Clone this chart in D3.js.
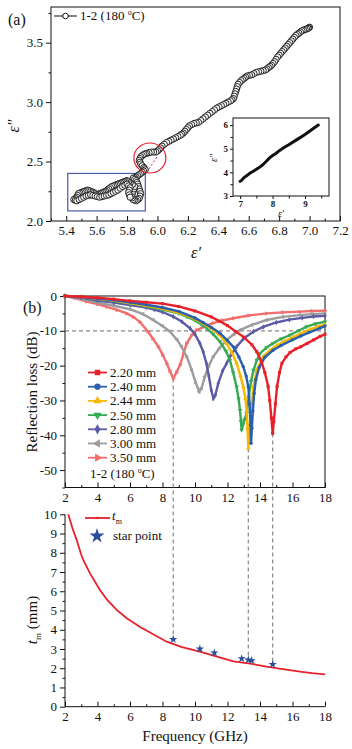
<!DOCTYPE html>
<html>
<head>
<meta charset="utf-8">
<script src="https://cdn.jsdelivr.net/npm/d3@7"></script>
<style>
body { margin: 0; background: #fff; }
text { font-family: 'Liberation Serif', 'Times New Roman', serif; fill: #111; }
</style>
</head>
<body>
<div id="chart"></div>
<script>
// ---- panel (a): Cole-Cole plot, [eps', eps'']
var coleCole = [
  [7.00,3.63],[6.995,3.625],[6.99,3.62],[6.98,3.615],[6.97,3.61],[6.96,3.605],[6.95,3.60],[6.94,3.59],
  [6.93,3.58],[6.92,3.57],[6.91,3.56],[6.90,3.545],[6.89,3.53],[6.88,3.515],[6.87,3.50],[6.86,3.485],
  [6.85,3.47],[6.84,3.455],[6.83,3.44],[6.82,3.425],[6.81,3.41],[6.80,3.395],[6.79,3.38],[6.78,3.36],
  [6.77,3.34],[6.76,3.325],[6.75,3.31],[6.74,3.30],[6.73,3.29],[6.72,3.28],[6.71,3.27],[6.695,3.265],
  [6.68,3.26],[6.665,3.255],[6.65,3.25],[6.635,3.24],[6.62,3.23],[6.605,3.225],[6.59,3.22],[6.58,3.21],
  [6.57,3.20],[6.56,3.19],[6.55,3.18],[6.54,3.165],[6.53,3.15],[6.525,3.13],[6.52,3.11],[6.515,3.09],
  [6.51,3.07],[6.505,3.05],[6.50,3.03],[6.49,3.02],[6.48,3.01],[6.465,3.00],[6.45,2.99],[6.435,2.98],
  [6.42,2.97],[6.405,2.96],[6.39,2.95],[6.375,2.935],[6.36,2.92],[6.345,2.905],[6.33,2.89],[6.315,2.875],
  [6.30,2.86],[6.285,2.845],[6.27,2.83],[6.255,2.825],[6.24,2.82],[6.225,2.81],[6.21,2.80],[6.20,2.785],
  [6.19,2.77],[6.18,2.755],[6.17,2.74],[6.16,2.73],[6.15,2.72],[6.135,2.71],[6.12,2.70],[6.105,2.69],
  [6.09,2.68],[6.075,2.67],[6.06,2.66],[6.045,2.645],[6.03,2.63],[6.02,2.615],[6.01,2.60],[6.00,2.59],
  [5.99,2.58],[5.975,2.58],[5.96,2.58],[5.945,2.575],[5.93,2.57],[5.92,2.565],[5.91,2.56],[5.90,2.55],
  [5.89,2.54],[5.885,2.525],[5.88,2.51],[5.885,2.495],[5.89,2.48],[5.90,2.465],[5.91,2.45],[5.915,2.44],
  [5.92,2.43],[5.91,2.42],[5.90,2.41],[5.89,2.40],[5.88,2.39],[5.87,2.38],[5.86,2.37],[5.85,2.365],
  [5.84,2.36],[5.85,2.35],[5.86,2.34],[5.865,2.325],[5.87,2.31],[5.875,2.29],[5.88,2.27],[5.885,2.25],
  [5.89,2.23],[5.885,2.21],[5.88,2.19],[5.87,2.18],[5.86,2.17],[5.85,2.175],[5.84,2.18],[5.835,2.195],
  [5.83,2.21],[5.835,2.23],[5.84,2.25],[5.845,2.27],[5.85,2.29],[5.835,2.305],[5.82,2.32],[5.81,2.33],
  [5.80,2.34],[5.79,2.335],[5.78,2.33],[5.77,2.325],[5.76,2.32],[5.75,2.315],[5.74,2.31],[5.73,2.305],
  [5.72,2.30],[5.71,2.295],[5.70,2.29],[5.69,2.28],[5.68,2.27],[5.67,2.26],[5.66,2.25],[5.65,2.245],
  [5.64,2.24],[5.63,2.235],[5.62,2.23],[5.61,2.225],[5.60,2.22],[5.59,2.23],[5.58,2.24],[5.57,2.245],
  [5.56,2.25],[5.55,2.255],[5.54,2.26],[5.53,2.255],[5.52,2.25],[5.51,2.245],[5.50,2.24],[5.49,2.235],
  [5.48,2.23],[5.475,2.215],[5.47,2.20],[5.46,2.19],[5.45,2.18],[5.46,2.175],[5.47,2.17],[5.485,2.18],
  [5.50,2.19],[5.515,2.20],[5.53,2.21],[5.545,2.215],[5.56,2.22],[5.575,2.215],[5.59,2.21],[5.605,2.205],
  [5.62,2.20],[5.635,2.205],[5.65,2.21],[5.665,2.215],[5.68,2.22],[5.695,2.23],[5.71,2.24],[5.725,2.25],
  [5.74,2.26],[5.755,2.275],[5.77,2.29],[5.785,2.30],[5.80,2.31],[5.81,2.295],[5.82,2.28],[5.815,2.26],
  [5.81,2.24],[5.815,2.22],[5.82,2.20]
];
var insetLine = [
  [7.00,3.62],[7.05,3.67],[7.12,3.78],[7.20,3.86],[7.31,3.97],[7.42,4.06],[7.56,4.18],[7.68,4.30],
  [7.80,4.46],[7.90,4.60],[7.98,4.69],[8.10,4.80],[8.22,4.93],[8.34,5.04],[8.50,5.17],[8.65,5.30],
  [8.85,5.47],[9.00,5.60],[9.15,5.75],[9.30,5.90],[9.41,6.00]
];
var aXTicks = [5.4, 5.6, 5.8, 6.0, 6.2, 6.4, 6.6, 6.8, 7.0, 7.2];
var aYTicks = [2.0, 2.5, 3.0, 3.5];
var boxCorners = [[5.41, 2.40], [5.92, 2.085]];
var circleAt = [5.95, 2.53];
var trendLine = [[5.93, 2.41], [5.995, 2.537]];

// ---- panel (b): reflection loss, [GHz, dB]
var rl220 = [[2,0],[3,-0.2],[4,-0.5],[5,-0.9],[6,-1.4],[7,-1.8],[8,-2.2],[9,-3.0],[10,-4.3],[11,-6.0],
  [11.5,-7.2],[12,-8.5],[12.5,-10.2],[13,-11.8],[13.5,-14.0],[13.8,-16.0],[14.1,-19.0],[14.3,-22],
  [14.5,-26],[14.6,-30],[14.7,-35],[14.78,-39.5],[14.85,-36],[14.95,-31],[15.05,-26],[15.2,-22],
  [15.35,-19.3],[15.6,-17.5],[15.85,-16.2],[16.2,-15.2],[16.5,-14.6],[16.9,-13.6],[17.3,-12.6],
  [17.7,-11.6],[18,-11.0]];
var rl240 = [[2,0],[3,-0.3],[4,-0.7],[5,-1.2],[6,-1.8],[7,-2.5],[8,-3.3],[9,-4.4],[10,-6.3],[10.5,-7.6],
  [11,-9.0],[11.54,-10.7],[12,-12.8],[12.36,-14.6],[12.7,-17.5],[12.97,-20.3],[13.15,-23],[13.28,-26.1],
  [13.36,-31],[13.42,-37],[13.45,-42.3],[13.5,-38],[13.56,-33],[13.64,-28],[13.75,-24],[13.95,-20.5],
  [14.3,-17.6],[14.8,-15.6],[15.3,-14.2],[16,-12.6],[16.5,-11.5],[17,-10.5],[17.7,-9.2],[18,-8.6]];
var rl244 = [[2,0],[3,-0.3],[4,-0.8],[5,-1.3],[6,-2.0],[7,-2.8],[8,-3.6],[9,-4.8],[10,-6.6],[10.5,-7.9],
  [11,-9.3],[11.5,-11.2],[11.95,-13.6],[12.3,-16.5],[12.56,-19.3],[12.8,-23],[12.97,-26.1],[13.1,-29.5],
  [13.18,-32.8],[13.23,-38],[13.28,-43.8],[13.34,-39],[13.42,-34],[13.49,-31],[13.6,-26],[13.8,-21.3],
  [14.2,-17.4],[14.6,-15.6],[15.03,-14.2],[15.5,-13.0],[16.05,-11.8],[16.5,-10.8],[17.08,-9.6],
  [17.5,-8.9],[18,-8.2]];
var rl250 = [[2,0],[3,-0.3],[4,-0.8],[5,-1.4],[6,-2.1],[7,-2.9],[8,-3.9],[9,-5.0],[9.49,-5.9],[10,-7.0],
  [10.4,-8.2],[10.72,-9.3],[11.1,-10.9],[11.54,-13.1],[11.9,-15.8],[12.15,-18.4],[12.35,-22],
  [12.56,-26.1],[12.68,-29.5],[12.77,-32.8],[12.83,-36],[12.87,-38.5],[12.95,-37],[13.05,-35.5],
  [13.18,-33.7],[13.3,-29],[13.45,-24.5],[13.6,-21.3],[13.8,-18.5],[14.0,-16.5],[14.4,-14.8],
  [14.8,-13.6],[15.3,-12.3],[15.85,-11.2],[16.4,-9.9],[16.87,-8.8],[17.4,-8.0],[18,-7.4]];
var rl280 = [[2,0],[3,-0.5],[4,-1.3],[5,-1.9],[6,-2.6],[7,-3.3],[7.5,-3.9],[8,-4.6],[8.66,-5.9],
  [9.2,-7.4],[9.7,-9.3],[10,-11],[10.3,-13.6],[10.5,-16],[10.7,-19.3],[10.85,-23],[11.0,-27],
  [11.13,-29.4],[11.25,-28.5],[11.43,-25.1],[11.7,-21.5],[11.95,-19.3],[12.2,-17],[12.56,-14.6],
  [13,-12.2],[13.6,-10.2],[14.2,-8.9],[15,-7.6],[15.8,-6.8],[16.6,-6.3],[17.3,-5.9],[18,-5.7]];
var rl300 = [[2,0],[3,-0.8],[4,-1.9],[5,-2.8],[6,-3.8],[6.8,-5.2],[7.43,-6.9],[8,-8.6],[8.46,-10.2],
  [8.9,-12.6],[9.18,-14.6],[9.5,-17.5],[9.8,-21.3],[10.05,-25],[10.26,-27.5],[10.4,-26.5],[10.6,-23.2],
  [10.85,-20],[11.13,-17.4],[11.5,-15],[11.95,-12.6],[12.4,-11],[12.77,-9.8],[13.5,-8.3],[14.4,-6.9],
  [15.4,-6.0],[16.46,-5.5],[17.2,-5.2],[18,-5.0]];
var rl350 = [[2,0],[2.6,-0.6],[3.33,-1.6],[4,-2.3],[4.57,-3.1],[5.2,-4.0],[5.8,-5.0],[6.2,-6.0],
  [6.6,-7.4],[7.1,-10.2],[7.4,-12.2],[7.74,-14.5],[8.0,-16.8],[8.26,-19.3],[8.45,-21.5],[8.66,-23.7],
  [8.85,-22],[9.08,-19.8],[9.3,-16.5],[9.49,-13.6],[9.8,-11.3],[10.1,-9.8],[10.6,-8.7],[11.1,-7.8],
  [11.7,-7.0],[12.36,-6.4],[13.3,-5.6],[14.4,-5.0],[15.4,-4.7],[16.46,-4.5],[17.2,-4.3],[18,-4.2]];
var rlNames = ["2.20 mm", "2.40 mm", "2.44 mm", "2.50 mm", "2.80 mm", "3.00 mm", "3.50 mm"];
var rlColors = ["#e8202a", "#2a5fae", "#f6b800", "#36aa55", "#5b5ba6", "#9c9c9c", "#f26d6d"];
var rlSymbols = [d3.symbolSquare, d3.symbolCircle, d3.symbolTriangle, "down", d3.symbolDiamond, "left", "right"];
var rlSeries = [rl220, rl240, rl244, rl250, rl280, rl300, rl350];
var freqTicks = [2, 4, 6, 8, 10, 12, 14, 16, 18];
var rlTicks = [0, -10, -20, -30, -40, -50];

// ---- panel (b) lower: matching thickness
var tmCurve = [[2.2,10],[2.45,9.3],[2.72,8.66],[3.0,7.9],[3.13,7.62],[3.54,6.93],[4.15,6.07],[4.6,5.55],
  [5.18,5.03],[5.8,4.6],[6.6,4.16],[7.4,3.78],[8.26,3.38],[9.2,3.1],[10.3,2.86],[11.3,2.62],
  [12.36,2.36],[13.4,2.24],[14.4,2.08],[15.4,1.95],[16.46,1.82],[17.2,1.74],[18,1.68]];
var starF = [8.66, 10.3, 11.19, 12.87, 13.28, 13.49, 14.78];
var starT = [3.5, 3.0, 2.8, 2.5, 2.44, 2.4, 2.2];
var tmTicks = [0, 1, 2, 3, 4, 5, 6, 7, 8, 9, 10];
var dropF = [8.66, 13.28, 14.78];
var dropRL = [-23.7, -43.8, -39.5];
var dropT = [3.5, 2.46, 2.2];

var serif = "'Liberation Serif', 'Times New Roman', serif";

var svg = d3.select("#chart").append("svg")
  .attr("width", 352)
  .attr("height", 749);

function range(a, b, step) {
  return d3.range(a, b + step / 2, step).map(function (v) { return +v.toFixed(3); });
}

function drawAxis(orient, scale, pos, majors, minors, fmt, inward, fs) {
  var make = orient === "left" ? d3.axisLeft : d3.axisBottom;
  var dir = inward ? -1 : 1;
  var tr = orient === "left" ? "translate(" + pos + ",0)" : "translate(0," + pos + ")";
  var gm = svg.append("g").attr("transform", tr)
    .call(make(scale).tickValues(minors).tickSize(2.5 * dir).tickFormat(""));
  gm.select(".domain").remove();
  var g = svg.append("g").attr("transform", tr)
    .call(make(scale).tickValues(majors).tickSize(5 * dir).tickPadding(inward ? 5 : 3).tickFormat(fmt));
  g.select(".domain").remove();
  g.attr("font-family", serif).attr("font-size", fs || 13);
  g.selectAll("line").attr("stroke", "#111");
  g.selectAll("text").attr("fill", "#222");
  gm.selectAll("line").attr("stroke", "#111");
  return g;
}

function frame(x, y) {
  svg.append("rect")
    .attr("x", x.range()[0]).attr("y", y.range()[1])
    .attr("width", x.range()[1] - x.range()[0])
    .attr("height", y.range()[0] - y.range()[1])
    .attr("fill", "none").attr("stroke", "#111").attr("stroke-width", 1);
}

function symbolPath(sym, size) {
  if (sym === "down" || sym === "left" || sym === "right") return d3.symbol(d3.symbolTriangle, size)();
  return d3.symbol(sym, size)();
}
function symbolRot(sym) {
  if (sym === "down") return 180;
  if (sym === "left") return -90;
  if (sym === "right") return 90;
  return 0;
}

// ================= panel (a) =================
var ax = d3.scaleLinear().domain([5.3, 7.2]).range([51, 340]);
var ay = d3.scaleLinear().domain([2.0, 3.8]).range([221, 7]);

frame(ax, ay);
drawAxis("bottom", ax, 221, aXTicks, range(5.3, 7.1, 0.2), d3.format(".1f"), true);
drawAxis("left", ay, 51, aYTicks, [2.25, 2.75, 3.25, 3.75], d3.format(".1f"), false);

// blue box around the low-eps' region
svg.append("rect")
  .attr("x", ax(boxCorners[0][0])).attr("y", ay(boxCorners[0][1]))
  .attr("width", ax(boxCorners[1][0]) - ax(boxCorners[0][0]))
  .attr("height", ay(boxCorners[1][1]) - ay(boxCorners[0][1]))
  .attr("fill", "none").attr("stroke", "#4a5aa8").attr("stroke-width", 1.2);

var cc = svg.append("g");
cc.append("path")
  .attr("d", d3.line().x(function (d) { return ax(d[0]); }).y(function (d) { return ay(d[1]); })(coleCole))
  .attr("fill", "none").attr("stroke", "#111").attr("stroke-width", 1);
cc.selectAll("circle").data(coleCole).enter().append("circle")
  .attr("cx", function (d) { return ax(d[0]); })
  .attr("cy", function (d) { return ay(d[1]); })
  .attr("r", 3.1)
  .attr("fill", "#fff").attr("fill-opacity", 0.8)
  .attr("stroke", "#111").attr("stroke-width", 0.9);

svg.append("ellipse")
  .attr("cx", ax(circleAt[0])).attr("cy", ay(circleAt[1]))
  .attr("rx", 16).attr("ry", 15)
  .attr("fill", "none").attr("stroke", "#e8202a").attr("stroke-width", 1.2);
svg.append("line")
  .attr("x1", ax(trendLine[0][0])).attr("y1", ay(trendLine[0][1]))
  .attr("x2", ax(trendLine[1][0])).attr("y2", ay(trendLine[1][1]))
  .attr("stroke", "#e8202a").attr("stroke-width", 1).attr("stroke-dasharray", "2,2");

// legend (a)
svg.append("line").attr("x1", 54).attr("x2", 77).attr("y1", 16).attr("y2", 16).attr("stroke", "#111");
svg.append("circle").attr("cx", 65.5).attr("cy", 16).attr("r", 2.8).attr("fill", "#fff").attr("stroke", "#111");
var la = svg.append("text").attr("x", 80).attr("y", 20).attr("font-size", 13);
la.append("tspan").text("1-2 (180 ");
la.append("tspan").attr("font-size", 8).attr("dy", -5).text("o");
la.append("tspan").attr("dy", 5).text("C)");

svg.append("text").attr("x", 8).attr("y", 25).attr("font-size", 16).text("(a)");
svg.append("text").attr("transform", "translate(19,126) rotate(-90)")
  .attr("text-anchor", "middle").attr("font-size", 16).attr("font-style", "italic").text("ε\u2033");
svg.append("text").attr("x", 196).attr("y", 258).attr("text-anchor", "middle")
  .attr("font-size", 16).attr("font-style", "italic").text("ε\u2032");

// inset
var ix = d3.scaleLinear().domain([6.78, 9.74]).range([233, 329]);
var iy = d3.scaleLinear().domain([3, 6.3]).range([196, 118]);
svg.append("rect").attr("x", 233).attr("y", 118).attr("width", 96).attr("height", 78).attr("fill", "#fff");
frame(ix, iy);
var ig1 = drawAxis("bottom", ix, 196, [7, 8, 9], [7.5, 8.5, 9.5], d3.format("d"), false, 9);
var ig2 = drawAxis("left", iy, 233, [3, 4, 5, 6], [3.5, 4.5, 5.5], d3.format("d"), false, 9);
[ig1, ig2].forEach(function (g) {
  g.attr("font-family", "'Liberation Sans', Arial, sans-serif").attr("font-weight", "bold");
});
ig1.selectAll("line").attr("y2", 3);
ig2.selectAll("line").attr("x2", -3);
ig1.selectAll("text").attr("y", 5);
ig2.selectAll("text").attr("x", -5);
svg.append("path")
  .attr("d", d3.line().x(function (d) { return ix(d[0]); }).y(function (d) { return iy(d[1]); })(insetLine))
  .attr("fill", "none").attr("stroke", "#111").attr("stroke-width", 3).attr("stroke-linecap", "round");
svg.append("text").attr("transform", "translate(217,158) rotate(-90)")
  .attr("text-anchor", "middle").attr("font-size", 10).attr("font-style", "italic").text("ε\u2033");
svg.append("text").attr("x", 281).attr("y", 217).attr("text-anchor", "middle")
  .attr("font-size", 10).attr("font-style", "italic").text("ε\u2032");

// ================= panel (b) top =================
var bx = d3.scaleLinear().domain([2, 18]).range([65, 325]);
var by = d3.scaleLinear().domain([-55, 0]).range([487.5, 296]);
var ty = d3.scaleLinear().domain([0, 10]).range([706.7, 514.3]);

frame(bx, by);
drawAxis("bottom", bx, 487.5, freqTicks, range(3, 17, 2), function (d) { return String(d); }, true);
drawAxis("left", by, 65, rlTicks, [-5, -15, -25, -35, -45, -55], function (d) { return String(d); }, false);

svg.append("line")
  .attr("x1", bx(2)).attr("x2", bx(18)).attr("y1", by(-10)).attr("y2", by(-10))
  .attr("stroke", "#888").attr("stroke-width", 1.2).attr("stroke-dasharray", "4,3");

// vertical drop lines from RL minima to the star points
dropF.forEach(function (f, i) {
  svg.append("line")
    .attr("x1", bx(f)).attr("x2", bx(f))
    .attr("y1", by(dropRL[i])).attr("y2", ty(dropT[i]))
    .attr("stroke", "#888").attr("stroke-width", 1.2).attr("stroke-dasharray", "4,3");
});

var rlLine = d3.line().x(function (d) { return bx(d[0]); }).y(function (d) { return by(d[1]); });
var order = [6, 5, 4, 3, 2, 1, 0];
order.forEach(function (i) {
  var g = svg.append("g");
  g.append("path").attr("d", rlLine(rlSeries[i]))
    .attr("fill", "none").attr("stroke", rlColors[i]).attr("stroke-width", 2.4);
  g.selectAll("path.m").data(rlSeries[i]).enter().append("path")
    .attr("class", "m")
    .attr("d", symbolPath(rlSymbols[i], 9))
    .attr("transform", function (d) {
      return "translate(" + bx(d[0]) + "," + by(d[1]) + ") rotate(" + symbolRot(rlSymbols[i]) + ")";
    })
    .attr("fill", rlColors[i]);
});

// legend (b)
rlNames.forEach(function (name, i) {
  var y = 372.5 + i * 14.2;
  svg.append("line").attr("x1", 88).attr("x2", 107).attr("y1", y).attr("y2", y)
    .attr("stroke", rlColors[i]).attr("stroke-width", 1.8);
  svg.append("path").attr("d", symbolPath(rlSymbols[i], 30))
    .attr("transform", "translate(97.5," + y + ") rotate(" + symbolRot(rlSymbols[i]) + ")")
    .attr("fill", rlColors[i]);
  svg.append("text").attr("x", 110).attr("y", y + 4.5).attr("font-size", 13).text(name);
});
var lb = svg.append("text").attr("x", 90).attr("y", 478).attr("font-size", 13);
lb.append("tspan").text("1-2 (180 ");
lb.append("tspan").attr("font-size", 8).attr("dy", -5).text("o");
lb.append("tspan").attr("dy", 5).text("C)");

svg.append("text").attr("x", 23).attr("y", 313).attr("font-size", 16).text("(b)");
svg.append("text").attr("transform", "translate(37,392) rotate(-90)")
  .attr("text-anchor", "middle").attr("font-size", 15).text("Reflection loss (dB)");

// ================= panel (b) bottom =================
svg.append("line").attr("x1", 65).attr("x2", 65).attr("y1", ty(10)).attr("y2", ty(0)).attr("stroke", "#111");
svg.append("line").attr("x1", 65).attr("x2", 325).attr("y1", ty(0)).attr("y2", ty(0)).attr("stroke", "#111");
drawAxis("bottom", bx, ty(0), freqTicks, range(3, 17, 2), function (d) { return String(d); }, true);
drawAxis("left", ty, 65, tmTicks, range(0.5, 9.5, 1), function (d) { return String(d); }, false);

svg.append("path")
  .attr("d", d3.line().x(function (d) { return bx(d[0]); }).y(function (d) { return ty(d[1]); })(tmCurve))
  .attr("fill", "none").attr("stroke", "#e8202a").attr("stroke-width", 1.8);

svg.selectAll("path.star").data(starF).enter().append("path")
  .attr("class", "star")
  .attr("d", d3.symbol(d3.symbolStar, 22)())
  .attr("transform", function (d, i) { return "translate(" + bx(d) + "," + ty(starT[i]) + ")"; })
  .attr("fill", "#2c4d9e");

// legend (b bottom)
svg.append("line").attr("x1", 85).attr("x2", 110).attr("y1", 518).attr("y2", 518)
  .attr("stroke", "#e8202a").attr("stroke-width", 1.8);
svg.append("circle").attr("cx", 97.5).attr("cy", 518).attr("r", 1.3).attr("fill", "#e8202a");
var lt = svg.append("text").attr("x", 112).attr("y", 520).attr("font-size", 13);
lt.append("tspan").attr("font-style", "italic").text("t");
lt.append("tspan").attr("font-size", 8).attr("dy", 4).text("m");
svg.append("path").attr("d", d3.symbol(d3.symbolStar, 70)())
  .attr("transform", "translate(97,536)").attr("fill", "#2c4d9e");
svg.append("text").attr("x", 113).attr("y", 540).attr("font-size", 13).text("star point");

var ltm = svg.append("text").attr("transform", "translate(37,620) rotate(-90)")
  .attr("text-anchor", "middle").attr("font-size", 15);
ltm.append("tspan").attr("font-style", "italic").text("t");
ltm.append("tspan").attr("font-size", 9).attr("dy", 4).text("m");
ltm.append("tspan").attr("dy", -4).text(" (mm)");

svg.append("text").attr("x", 195).attr("y", 741).attr("text-anchor", "middle")
  .attr("font-size", 15).text("Frequency (GHz)");
</script>
</body>
</html>
